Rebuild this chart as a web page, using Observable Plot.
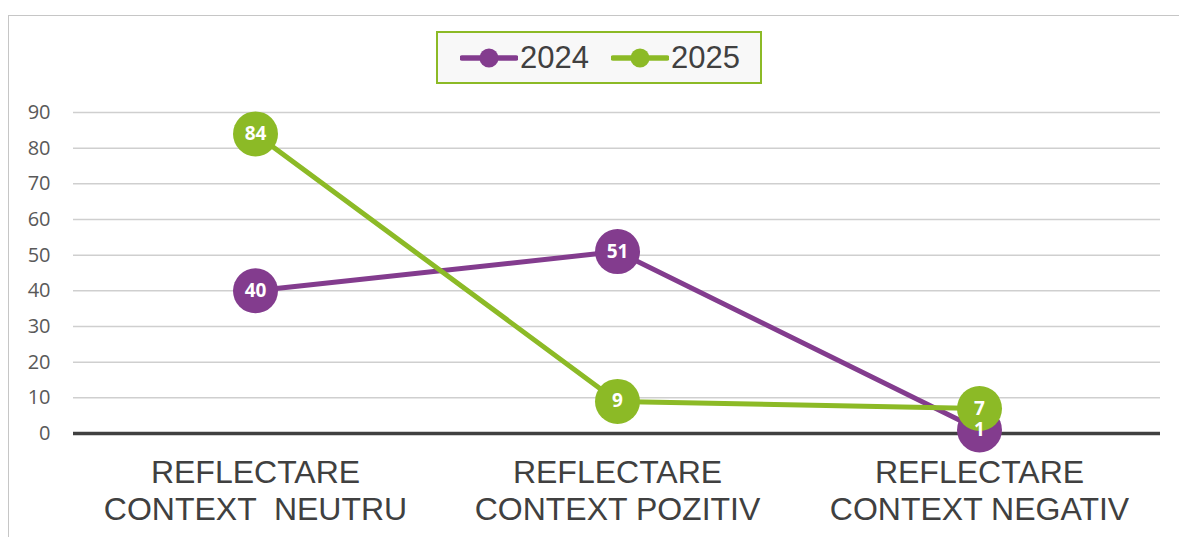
<!DOCTYPE html>
<html>
<head>
<meta charset="utf-8">
<script src="https://cdn.jsdelivr.net/npm/d3@7"></script>
<script src="https://cdn.jsdelivr.net/npm/@observablehq/plot@0.6"></script>
<style>
  html, body { margin: 0; padding: 0; background: #ffffff; overflow: hidden; }
  #wrap { position: relative; width: 1179px; height: 537px; }
  #chart { position: absolute; left: 0; top: 0; }
  #chart svg text { white-space: pre; }
  #frame { position: absolute; left: 8px; top: 15px; width: 1300px; height: 700px;
           border: 1.5px solid #c6c6c6; box-sizing: border-box; pointer-events: none; }
  #legend { position: absolute; left: 436px; top: 31px; width: 326px; height: 53px;
            box-sizing: border-box; border: 2px solid #8cba26; background: #f8f8f8;
            display: flex; align-items: center; padding-left: 22px;
            font-family: "Liberation Sans", Arial, sans-serif; font-size: 31px; color: #404040; }
  .item { display: flex; align-items: center; }
  .item svg { display: block; margin-right: 2px; }
  .item + .item { margin-left: 22px; }
</style>
</head>
<body>
<div id="wrap">
  <div id="chart"></div>
  <div id="legend"></div>
  <div id="frame"></div>
</div>
<script>
const categories = ["REFLECTARE\nCONTEXT  NEUTRU", "REFLECTARE\nCONTEXT POZITIV", "REFLECTARE\nCONTEXT NEGATIV"];
const seriesNames = ["2024", "2025"];
const values2024 = [40, 51, 1];
const values2025 = [84, 9, 7];
const yTicks = [0, 10, 20, 30, 40, 50, 60, 70, 80, 90];
const colors = ["#833c8e", "#8cba26"];

const d2024 = categories.map((c, i) => ({cat: c, v: values2024[i]}));
const d2025 = categories.map((c, i) => ({cat: c, v: values2025[i]}));

const plot = Plot.plot({
  width: 1179,
  height: 537,
  marginLeft: 73,
  marginRight: 19,
  marginTop: 112,
  marginBottom: 104,
  style: {background: "transparent", overflow: "visible"},
  x: {type: "point", domain: categories, padding: 0.5, label: null},
  y: {domain: [0, 90], label: null},
  marks: [
    Plot.gridY(yTicks.filter(t => t !== 0), {stroke: "#cfcfcf", strokeOpacity: 1, strokeWidth: 1.5}),
    Plot.ruleY([0], {stroke: "#404040", strokeWidth: 3.5}),
    Plot.axisY(yTicks, {tickSize: 0, tickPadding: 23, fontSize: 20, fontFamily: "'Open Sans', sans-serif", fill: "#595959", label: null}),
    Plot.axisX({tickSize: 0, tickPadding: 23, fontSize: 32, lineHeight: 1.16, fontFamily: "'Liberation Sans', Arial, sans-serif", fill: "#404040", label: null}),
    Plot.line(d2024, {x: "cat", y: "v", stroke: colors[0], strokeWidth: 5}),
    Plot.dot(d2024, {x: "cat", y: "v", r: 22.5, fill: colors[0], stroke: null}),
    Plot.line(d2025, {x: "cat", y: "v", stroke: colors[1], strokeWidth: 5}),
    Plot.dot(d2025, {x: "cat", y: "v", r: 22.5, fill: colors[1], stroke: null}),
    Plot.text(d2024, {x: "cat", y: "v", text: d => String(d.v), fill: "white", fontSize: 19, fontWeight: "bold", fontFamily: "'Open Sans', sans-serif"}),
    Plot.text(d2025, {x: "cat", y: "v", text: d => String(d.v), fill: "white", fontSize: 19, fontWeight: "bold", fontFamily: "'Open Sans', sans-serif"})
  ]
});
document.getElementById("chart").appendChild(plot);

const legend = document.getElementById("legend");
seriesNames.forEach((name, i) => {
  const item = document.createElement("div");
  item.className = "item";
  item.innerHTML = `<svg width="58" height="22"><line x1="2" y1="11" x2="56" y2="11" stroke="${colors[i]}" stroke-width="5.5" stroke-linecap="round"/><circle cx="29" cy="11" r="9.5" fill="${colors[i]}"/></svg><span>${name}</span>`;
  legend.appendChild(item);
});
</script>
</body>
</html>
